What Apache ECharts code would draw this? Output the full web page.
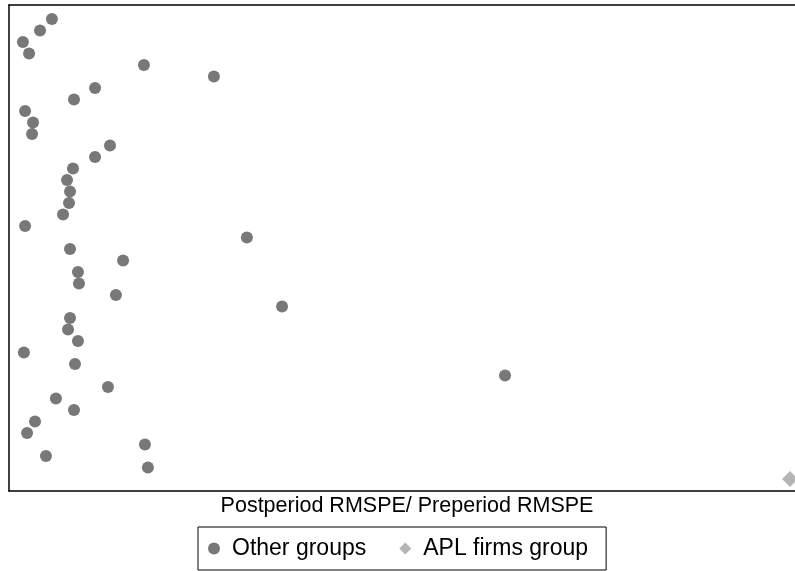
<!DOCTYPE html>
<html>
<head>
<meta charset="utf-8">
<script src="https://cdn.jsdelivr.net/npm/echarts@6/dist/echarts.min.js"></script>
<style>
html,body{margin:0;padding:0;background:#fff;}
#chart{width:795px;height:571px;}
</style>
</head>
<body>
<div id="chart"></div>
<script>
// Ratio of post-period RMSPE to pre-period RMSPE, ordered by rank (1 = top)
const otherRatios = [2.16, 1.56, 0.70, 1.01, 6.79, 10.31, 4.33, 3.27, 0.81, 1.21,
                     1.16, 5.08, 4.33, 3.22, 2.92, 3.07, 3.02, 2.72, 0.81, 11.97,
                     3.07, 5.74, 3.47, 3.52, 5.38, 13.74, 3.07, 2.97, 3.47, 0.75,
                     3.32, 24.96, 4.98, 2.36, 3.27, 1.31, 0.91, 6.84, 1.86, 6.99];
const otherRanks = [1,2,3,4,5,6,7,8,9,10,11,12,13,14,15,16,17,18,19,20,
                    21,22,23,24,25,26,27,28,29,30,31,32,33,34,35,36,37,38,39,40];
const aplRatios = [39.30];
const aplRanks = [41];
const seriesNames = ['Other groups', 'APL firms group'];
const xTitle = 'Postperiod RMSPE/ Preperiod RMSPE';

const FONT = '"Liberation Sans", Arial, Helvetica, sans-serif';
const chart = echarts.init(document.getElementById('chart'), null, {renderer: 'canvas'});
const zip = (xs, ys) => xs.map((x, i) => [x, ys[i]]);
const frameLine = {show: true, onZero: false, lineStyle: {color: '#000', width: 1.5}};

chart.setOption({
  animation: false,
  backgroundColor: '#fff',
  textStyle: {fontFamily: FONT},
  grid: {left: 9, top: 5, right: 0, bottom: 80},
  xAxis: [{
    type: 'value', min: 0, max: 39.55, position: 'bottom',
    name: xTitle, nameLocation: 'middle', nameGap: 4,
    nameTextStyle: {fontSize: 21.5, color: '#000', fontFamily: FONT, verticalAlign: 'top', padding: [0, 0, 0, 10]},
    axisLine: frameLine, axisTick: {show: false}, axisLabel: {show: false},
    splitLine: {show: false}
  }, {
    type: 'value', min: 0, max: 39.55, position: 'top',
    axisLine: frameLine, axisTick: {show: false}, axisLabel: {show: false},
    splitLine: {show: false}
  }],
  yAxis: {
    type: 'value', inverse: true, min: -0.217, max: 42.04, position: 'left',
    axisLine: frameLine, axisTick: {show: false}, axisLabel: {show: false},
    splitLine: {show: false}
  },
  legend: {
    left: 198, top: 527,
    orient: 'horizontal',
    itemWidth: 12, itemHeight: 12, itemGap: 33,
    padding: [10, 18, 10, 10],
    borderColor: '#000', borderWidth: 1,
    textStyle: {fontSize: 23, color: '#000', fontFamily: FONT, padding: [0, 0, 0, 7]},
    data: [
      {name: seriesNames[0], icon: 'circle', itemStyle: {color: '#565656'}},
      {name: seriesNames[1], icon: 'diamond', itemStyle: {color: '#a3a3a3'}}
    ]
  },
  series: [
    {
      name: seriesNames[0], type: 'scatter', xAxisIndex: 0,
      symbol: 'circle', symbolSize: 12,
      itemStyle: {color: '#565656'},
      data: zip(otherRatios, otherRanks)
    },
    {
      name: seriesNames[1], type: 'scatter', xAxisIndex: 0,
      symbol: 'diamond', symbolSize: 16,
      itemStyle: {color: '#a3a3a3'},
      data: zip(aplRatios, aplRanks)
    }
  ]
});
</script>
</body>
</html>
